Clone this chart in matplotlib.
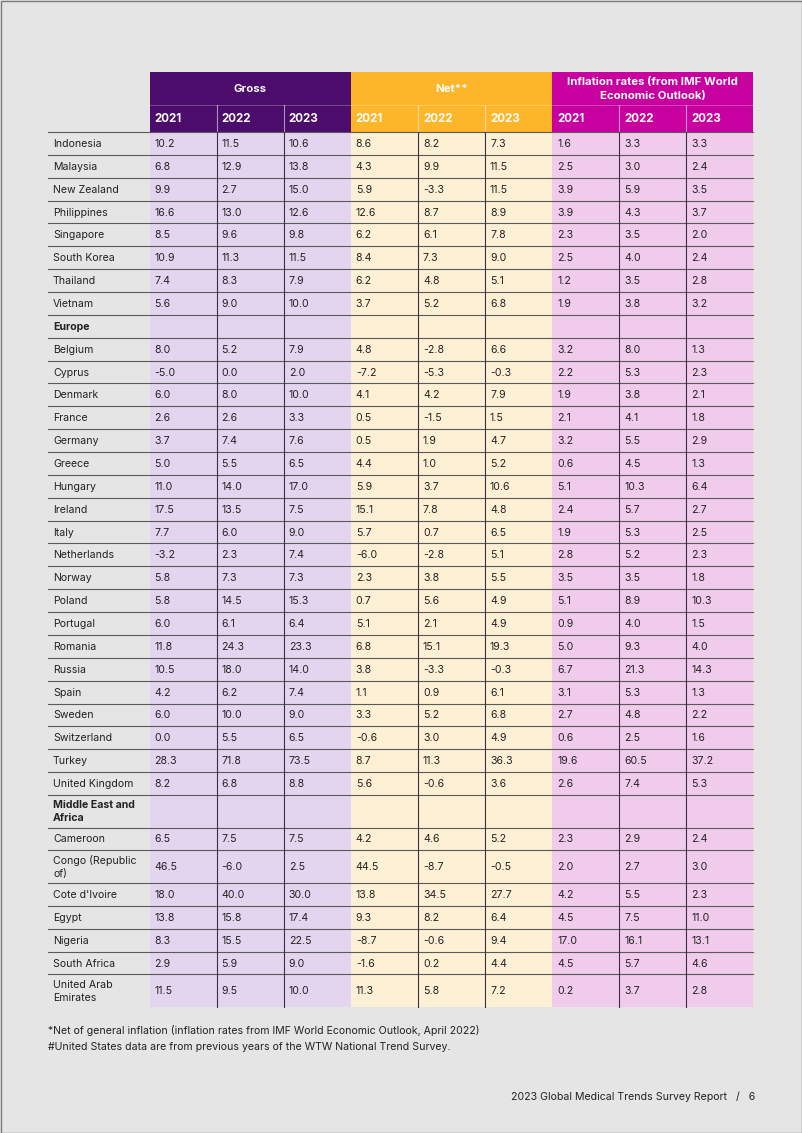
import matplotlib.pyplot as plt
from matplotlib.patches import Rectangle

plt.rcParams['font.family'] = ['Inter', 'DejaVu Sans']

# Row labels (section rows are marked with None values)
labels = ['Indonesia', 'Malaysia', 'New Zealand', 'Philippines', 'Singapore',
          'South Korea', 'Thailand', 'Vietnam',
          'Europe',
          'Belgium', 'Cyprus', 'Denmark', 'France', 'Germany', 'Greece', 'Hungary',
          'Ireland', 'Italy', 'Netherlands', 'Norway', 'Poland', 'Portugal',
          'Romania', 'Russia', 'Spain', 'Sweden', 'Switzerland', 'Turkey',
          'United Kingdom',
          'Middle East and\nAfrica',
          'Cameroon', 'Congo (Republic\nof)', "Cote d'Ivoire", 'Egypt', 'Nigeria',
          'South Africa', 'United Arab\nEmirates']
sections = ['Europe', 'Middle East and\nAfrica']

years = ['2021', '2022', '2023']
groups = ['Gross', 'Net**', 'Inflation rates (from IMF World\nEconomic Outlook)']

gross = [[10.2, 11.5, 10.6], [6.8, 12.9, 13.8], [9.9, 2.7, 15.0], [16.6, 13.0, 12.6],
         [8.5, 9.6, 9.8], [10.9, 11.3, 11.5], [7.4, 8.3, 7.9], [5.6, 9.0, 10.0],
         None,
         [8.0, 5.2, 7.9], [-5.0, 0.0, 2.0], [6.0, 8.0, 10.0], [2.6, 2.6, 3.3],
         [3.7, 7.4, 7.6], [5.0, 5.5, 6.5], [11.0, 14.0, 17.0], [17.5, 13.5, 7.5],
         [7.7, 6.0, 9.0], [-3.2, 2.3, 7.4], [5.8, 7.3, 7.3], [5.8, 14.5, 15.3],
         [6.0, 6.1, 6.4], [11.8, 24.3, 23.3], [10.5, 18.0, 14.0], [4.2, 6.2, 7.4],
         [6.0, 10.0, 9.0], [0.0, 5.5, 6.5], [28.3, 71.8, 73.5], [8.2, 6.8, 8.8],
         None,
         [6.5, 7.5, 7.5], [46.5, -6.0, 2.5], [18.0, 40.0, 30.0], [13.8, 15.8, 17.4],
         [8.3, 15.5, 22.5], [2.9, 5.9, 9.0], [11.5, 9.5, 10.0]]

net = [[8.6, 8.2, 7.3], [4.3, 9.9, 11.5], [5.9, -3.3, 11.5], [12.6, 8.7, 8.9],
       [6.2, 6.1, 7.8], [8.4, 7.3, 9.0], [6.2, 4.8, 5.1], [3.7, 5.2, 6.8],
       None,
       [4.8, -2.8, 6.6], [-7.2, -5.3, -0.3], [4.1, 4.2, 7.9], [0.5, -1.5, 1.5],
       [0.5, 1.9, 4.7], [4.4, 1.0, 5.2], [5.9, 3.7, 10.6], [15.1, 7.8, 4.8],
       [5.7, 0.7, 6.5], [-6.0, -2.8, 5.1], [2.3, 3.8, 5.5], [0.7, 5.6, 4.9],
       [5.1, 2.1, 4.9], [6.8, 15.1, 19.3], [3.8, -3.3, -0.3], [1.1, 0.9, 6.1],
       [3.3, 5.2, 6.8], [-0.6, 3.0, 4.9], [8.7, 11.3, 36.3], [5.6, -0.6, 3.6],
       None,
       [4.2, 4.6, 5.2], [44.5, -8.7, -0.5], [13.8, 34.5, 27.7], [9.3, 8.2, 6.4],
       [-8.7, -0.6, 9.4], [-1.6, 0.2, 4.4], [11.3, 5.8, 7.2]]

inflation = [[1.6, 3.3, 3.3], [2.5, 3.0, 2.4], [3.9, 5.9, 3.5], [3.9, 4.3, 3.7],
             [2.3, 3.5, 2.0], [2.5, 4.0, 2.4], [1.2, 3.5, 2.8], [1.9, 3.8, 3.2],
             None,
             [3.2, 8.0, 1.3], [2.2, 5.3, 2.3], [1.9, 3.8, 2.1], [2.1, 4.1, 1.8],
             [3.2, 5.5, 2.9], [0.6, 4.5, 1.3], [5.1, 10.3, 6.4], [2.4, 5.7, 2.7],
             [1.9, 5.3, 2.5], [2.8, 5.2, 2.3], [3.5, 3.5, 1.8], [5.1, 8.9, 10.3],
             [0.9, 4.0, 1.5], [5.0, 9.3, 4.0], [6.7, 21.3, 14.3], [3.1, 5.3, 1.3],
             [2.7, 4.8, 2.2], [0.6, 2.5, 1.6], [19.6, 60.5, 37.2], [2.6, 7.4, 5.3],
             None,
             [2.3, 2.9, 2.4], [2.0, 2.7, 3.0], [4.2, 5.5, 2.3], [4.5, 7.5, 11.0],
             [17.0, 16.1, 13.1], [4.5, 5.7, 4.6], [0.2, 3.7, 2.8]]

footnotes = ['*Net of general inflation (inflation rates from IMF World Economic Outlook, April 2022)',
             '#United States data are from previous years of the WTW National Trend Survey.']
footer = '2023 Global Medical Trends Survey Report   /   6'

# Colours
bg = '#e5e5e5'
head_colors = ['#4b0c6b', '#fdb52a', '#c8009f']
cell_colors = ['#e3d5ef', '#fef0d5', '#f1cbec']
text_color = '#222222'

# Layout (pixels)
x_label = 48
x_data = 149.5
col_w = 67.1
top_group = 72
top_year = 105
top_body = 132
row_h = 22.86
row_h_tall = 32.6
fs = 7.6

fig = plt.figure(figsize=(8.02, 11.33), dpi=100)
fig.patch.set_facecolor(bg)
ax = fig.add_axes([0, 0, 1, 1])
ax.set_xlim(0, 802)
ax.set_ylim(1133, 0)
ax.axis('off')

# page border
ax.add_patch(Rectangle((0.5, 0.5), 801, 1132, fill=False, ec='#7a7a7a', lw=1.0))

x_end = x_data + 9 * col_w

# header
for g in range(3):
    gx = x_data + g * 3 * col_w
    ax.add_patch(Rectangle((gx, top_group), 3 * col_w, top_body - top_group,
                           fc=head_colors[g], ec='none'))
    ax.text(gx + 1.5 * col_w, (top_group + top_year) / 2 + 0.5, groups[g], ha='center',
            va='center', color='white', fontsize=8.2, fontweight='bold', linespacing=1.45)
    for k in range(3):
        cx = gx + k * col_w
        ax.text(cx + 5, (top_year + top_body) / 2 + 0.5, years[k], ha='left',
                va='center', color='white', fontsize=8.3, fontweight='bold')
        if k > 0:
            ax.plot([cx, cx], [top_year, top_body], color='white', lw=0.8, alpha=0.55)
ax.plot([x_data, x_end], [top_year, top_year], color='white', lw=0.6, alpha=0.3)

# body
y = top_body
for i, lab in enumerate(labels):
    h = row_h_tall if '\n' in lab else row_h
    yc = y + h / 2
    for g, vals in enumerate([gross, net, inflation]):
        gx = x_data + g * 3 * col_w
        ax.add_patch(Rectangle((gx, y), 3 * col_w, h, fc=cell_colors[g], ec='none'))
        if vals[i] is not None:
            for k, v in enumerate(vals[i]):
                ax.text(gx + k * col_w + 5, yc + 0.5, f'{v:.1f}', ha='left', va='center',
                        color=text_color, fontsize=fs)
    bold = lab in sections
    ax.text(x_label + 5, yc + 0.5, lab, ha='left', va='center', color=text_color,
            fontsize=fs, fontweight='bold' if bold else 'normal', linespacing=1.4)
    ax.plot([x_label, x_end], [y, y], color='#5a5a5a', lw=0.8)
    y += h
y_bottom = y

# vertical separators inside groups
for g in range(3):
    for k in (1, 2):
        cx = x_data + (g * 3 + k) * col_w
        ax.plot([cx, cx], [top_body, y_bottom], color='#3c3040', lw=0.8)

# footnotes
for j, t in enumerate(footnotes):
    ax.text(x_label, 1030 + j * 17.5, t, ha='left', va='center', color=text_color,
            fontsize=fs)
ax.text(755, 1097, footer, ha='right', va='center', color=text_color, fontsize=fs)

fig.savefig('out.png', dpi=100, facecolor=bg)
